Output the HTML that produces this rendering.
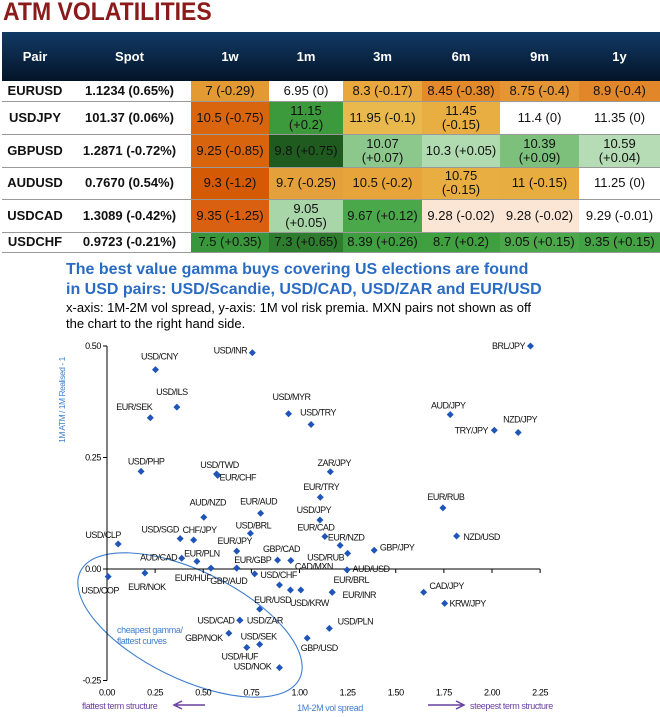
<!DOCTYPE html>
<html><head><meta charset="utf-8">
<style>
body{margin:0;width:660px;height:717px;background:#fff;overflow:hidden;font-family:"Liberation Sans",sans-serif;position:relative}
#title{position:absolute;left:3px;top:-2px;font-size:25px;font-weight:bold;color:#8b1a1a;letter-spacing:0px;transform:scaleX(0.92);transform-origin:left}
table{position:absolute;left:2px;top:32px;border-collapse:collapse;width:658px;table-layout:fixed}
th{background:linear-gradient(#123a66,#031428);color:#fff;font-size:13px;font-weight:bold;height:49px;padding:0}
td{font-size:13px;text-align:center;padding:0 1px;line-height:14px;border-bottom:1px solid #999;color:#111}
td.p,td.s{font-weight:bold;background:#fff}
#h1{position:absolute;left:66px;top:260px;font-size:16px;font-weight:bold;color:#2a6cc4;line-height:20px}
#h2{position:absolute;left:66px;top:300px;font-size:13px;color:#000;line-height:16px}
svg{position:absolute;left:0;top:0}
</style></head><body>
<div id="title">ATM VOLATILITIES</div>
<table>
<colgroup><col style="width:66px"><col style="width:123px"><col style="width:78px"><col style="width:74px"><col style="width:79px"><col style="width:78px"><col style="width:79px"><col style="width:81px"></colgroup>
<tr><th>Pair</th><th>Spot</th><th>1w</th><th>1m</th><th>3m</th><th>6m</th><th>9m</th><th>1y</th></tr>
<tr style="height:20px"><td class="p">EURUSD</td><td class="s">1.1234 (0.65%)</td><td style="background:#e39a32">7 (-0.29)</td><td style="background:#fff">6.95 (0)</td><td style="background:#e9a83e">8.3 (-0.17)</td><td style="background:#e38a2a">8.45 (-0.38)</td><td style="background:#e69535">8.75 (-0.4)</td><td style="background:#e2862a">8.9 (-0.4)</td></tr>
<tr style="height:33px"><td class="p">USDJPY</td><td class="s">101.37 (0.06%)</td><td style="background:#d9650f">10.5 (-0.75)</td><td style="background:#3c9a3c">11.15<br>(+0.2)</td><td style="background:#eab94e">11.95 (-0.1)</td><td style="background:#e8ae42">11.45<br>(-0.15)</td><td style="background:#fff">11.4 (0)</td><td style="background:#fff">11.35 (0)</td></tr>
<tr style="height:33px"><td class="p">GBPUSD</td><td class="s">1.2871 (-0.72%)</td><td style="background:#d9640e">9.25 (-0.85)</td><td style="background:#1f5a1f">9.8 (+0.75)</td><td style="background:#8cc88c">10.07<br>(+0.07)</td><td style="background:#b0dab0">10.3 (+0.05)</td><td style="background:#7cc07c">10.39<br>(+0.09)</td><td style="background:#b5dcb5">10.59<br>(+0.04)</td></tr>
<tr style="height:32px"><td class="p">AUDUSD</td><td class="s">0.7670 (0.54%)</td><td style="background:#d45a05">9.3 (-1.2)</td><td style="background:#e4a03a">9.7 (-0.25)</td><td style="background:#e6a43b">10.5 (-0.2)</td><td style="background:#e8ae42">10.75<br>(-0.15)</td><td style="background:#e8ad40">11 (-0.15)</td><td style="background:#fff">11.25 (0)</td></tr>
<tr style="height:33px"><td class="p">USDCAD</td><td class="s">1.3089 (-0.42%)</td><td style="background:#d96010">9.35 (-1.25)</td><td style="background:#a8d6a8">9.05<br>(+0.05)</td><td style="background:#4aa84a">9.67 (+0.12)</td><td style="background:#fbe6d6">9.28 (-0.02)</td><td style="background:#fbe6d6">9.28 (-0.02)</td><td style="background:#fff">9.29 (-0.01)</td></tr>
<tr style="height:20px"><td class="p">USDCHF</td><td class="s">0.9723 (-0.21%)</td><td style="background:#3a963a">7.5 (+0.35)</td><td style="background:#2e7d2e">7.3 (+0.65)</td><td style="background:#3f9e3f">8.39 (+0.26)</td><td style="background:#40a040">8.7 (+0.2)</td><td style="background:#4aa84a">9.05 (+0.15)</td><td style="background:#43a243">9.35 (+0.15)</td></tr>
</table>
<div id="h1">The best value gamma buys covering US elections are found<br>in USD pairs: USD/Scandie, USD/CAD, USD/ZAR and EUR/USD</div>
<div id="h2">x-axis: 1M-2M vol spread, y-axis: 1M vol risk premia. MXN pairs not shown as off<br>the chart to the right hand side.</div>
<svg id="chart" width="660" height="717"></svg>
<script>
const pairs=["USD/CNY","USD/INR","USD/ILS","EUR/SEK","USD/MYR","USD/TRY","USD/PHP","USD/TWD","EUR/CHF","ZAR/JPY","EUR/TRY","AUD/NZD","EUR/AUD","USD/JPY","USD/BRL","USD/SGD","CHF/JPY","EUR/CAD","EUR/NZD","USD/RUB","USD/CLP","EUR/JPY","AUD/CAD","EUR/PLN","GBP/CAD","CAD/MXN","BRL/JPY","AUD/JPY","TRY/JPY","NZD/JPY","EUR/RUB","NZD/USD","GBP/JPY","AUD/USD","USD/COP","EUR/NOK","EUR/HUF","EUR/GBP","GBP/AUD","USD/CHF","","USD/KRW","","EUR/BRL","EUR/INR","CAD/JPY","KRW/JPY","EUR/USD","USD/CAD","USD/ZAR","GBP/NOK","USD/SEK","USD/HUF","USD/PLN","GBP/USD","USD/NOK"];
const volSpread=[0.252,0.755,0.363,0.225,0.943,1.06,0.177,0.569,0.575,1.16,1.108,0.503,0.798,1.106,0.745,0.38,0.45,1.132,1.211,1.25,0.058,0.674,0.388,0.467,0.886,0.955,2.2,1.783,2.012,2.136,1.745,1.816,1.388,1.247,0.006,0.197,0.54,0.674,0.674,0.767,0.896,0.953,1.007,1.17,1.17,1.645,1.754,0.793,0.69,0.69,0.633,0.793,0.726,1.155,1.04,0.896];
const riskPremia=[0.447,0.485,0.363,0.339,0.348,0.324,0.219,0.213,0.21,0.218,0.161,0.116,0.125,0.11,0.08,0.068,0.065,0.073,0.053,0.035,0.056,0.04,0.024,0.017,0.02,0.019,0.5,0.346,0.311,0.306,0.137,0.074,0.042,-0.002,-0.017,-0.009,0.002,0.002,0.002,-0.011,-0.036,-0.047,-0.047,-0.052,-0.052,-0.052,-0.077,-0.09,-0.115,-0.115,-0.144,-0.169,-0.176,-0.133,-0.155,-0.221];
const labelDx=[4,-22,-5,-16,3,7,5,3,20,4,1,4,-2,-6,3,-20,6,-9,6,-22,-15,-2,-23,5,4,23,-22,-2,-23,2,3,25,23,24,-8,2,-18,16,-8,24,0,19,0,19,27,23,23,13,-24,25,-25,-1,-7,26,12,-27];
const labelDy=[-13,-2,-15,-11,-17,-12,-10,-9,2,-9,-10,-15,-12,-10,-8,-9,-10,-9,-8,4,-9,-10,-1,-8,-11,6,0,-9,0,-13,-11,1,-3,-1,14,14,10,-8,13,1,0,13,0,-12,3,-6,0,-9,0,0,5,-8,9,-7,10,-1];
const xTicks=[0,0.25,0.5,0.75,1,1.25,1.5,1.75,2,2.25];
const xTickLabels=["0.00","0.25","0.50","0.75","1.00","1.25","1.50","1.75","2.00","2.25"];
const yTicks=[-0.25,0,0.25,0.5];
const yTickLabels=["-0.25","0.00","0.25","0.50"];

const NS="http://www.w3.org/2000/svg";
const svg=document.getElementById('chart');
const X0=107,XS=192.5,Y0=569,YS=446;
function sx(v){return X0+v*XS;}
function sy(v){return Y0-v*YS;}
function mk(t,a,parent){const e=document.createElementNS(NS,t);for(const k in a)e.setAttribute(k,a[k]);(parent||svg).appendChild(e);return e;}
const g=mk('g',{'font-family':'Liberation Sans, sans-serif'});


const el=mk('ellipse',{cx:190,cy:625,rx:122,ry:54,fill:'none',stroke:'#3f7fcf','stroke-width':1.1,transform:'rotate(26 190 625)'},g);


const et=mk('text',{x:117,y:633,'font-size':9,fill:'#3f7fcf','letter-spacing':'-0.4'},g);
et.textContent='cheapest gamma/';


const et2=mk('text',{x:117,y:644,'font-size':9,fill:'#3f7fcf','letter-spacing':'-0.4'},g);
et2.textContent='flattest curves';


const ya=mk('line',{x1:X0,x2:X0,y1:sy(0.5),y2:sy(-0.25),stroke:'#000','stroke-width':1},g);


const xa=mk('line',{x1:X0,x2:sx(2.25),y1:Y0,y2:Y0,stroke:'#000','stroke-width':1},g);


xTicks.forEach((v,i)=>{
  const t=mk('line',{x1:sx(v),x2:sx(v),y1:Y0,y2:Y0+4,stroke:'#000'},g);
  
  
  const l=mk('text',{x:sx(v),y:sy(-0.25)+15,'font-size':9,'text-anchor':'middle','letter-spacing':'-0.4'},g);
  l.textContent=xTickLabels[i];
  
  
});
yTicks.forEach((v,i)=>{
  const t=mk('line',{x1:X0-4,x2:X0,y1:sy(v),y2:sy(v),stroke:'#000'},g);
  
  
  const l=mk('text',{x:X0-6,y:sy(v)+3,'font-size':9,'text-anchor':'end','letter-spacing':'-0.4'},g);
  l.textContent=yTickLabels[i];
  
  
});
const yt=mk('text',{x:0,y:0,'font-size':8.5,fill:'#3f7fcf','text-anchor':'middle','letter-spacing':'-0.5',transform:'translate(65 400) rotate(-90)'},g);
yt.textContent='1M ATM / 1M Realised - 1';


pairs.forEach((p,i)=>{
  const x=sx(volSpread[i]),y=sy(riskPremia[i]);
  const d=mk('path',{d:`M${x} ${y-3.5}L${x+3.5} ${y}L${x} ${y+3.5}L${x-3.5} ${y}Z`,fill:'#1f55b8'},g);
  
  
  if(p){
    const t=mk('text',{x:x+labelDx[i],y:y+labelDy[i]+3,'font-size':9,'text-anchor':'middle','letter-spacing':'-0.5',fill:'#111'},g);
    t.textContent=p;
    
    
  }
});
const b1=mk('text',{x:82,y:709,'font-size':9,fill:'#6a3fa0','letter-spacing':'-0.4'},g);
b1.textContent='flattest term structure';


const a1=mk('path',{d:'M205 705 L176 705 M182 701 L174 705 L182 709',stroke:'#6a3fa0','stroke-width':1.5,fill:'none'},g);


const b2=mk('text',{x:330,y:711,'font-size':9,fill:'#3f7fcf','text-anchor':'middle','letter-spacing':'-0.4'},g);
b2.textContent='1M-2M vol spread';


const a2=mk('path',{d:'M428 705 L462 705 M456 701 L464 705 L456 709',stroke:'#6a3fa0','stroke-width':1.5,fill:'none'},g);


const b3=mk('text',{x:470,y:709,'font-size':9,fill:'#6a3fa0','letter-spacing':'-0.4'},g);
b3.textContent='steepest term structure';


</script>
</body></html>
